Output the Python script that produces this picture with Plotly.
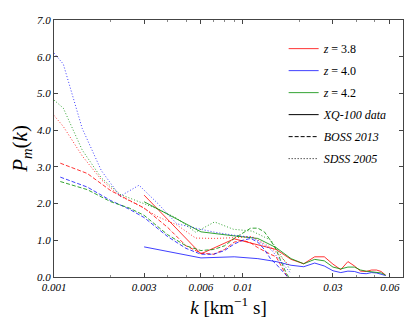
import plotly.graph_objects as go

# XQ-100 (solid), k in s/km
k_xq = [0.003, 0.006, 0.009, 0.012, 0.015, 0.018, 0.021, 0.024, 0.027, 0.030,
        0.033, 0.036, 0.039, 0.042, 0.045, 0.048, 0.051, 0.054, 0.057]
xq_38 = [2.23, 0.63, 1.04, 0.88, 0.75, 0.48, 0.36, 0.55, 0.55, 0.35,
         0.20, 0.42, 0.30, 0.16, 0.15, 0.19, 0.19, 0.15, 0.05]
xq_40 = [0.82, 0.52, 0.55, 0.50, 0.42, 0.32, 0.28, 0.38, 0.30, 0.17,
         0.12, 0.16, 0.15, 0.10, 0.09, 0.12, 0.11, 0.08, 0.04]
xq_42 = [2.05, 1.23, 1.12, 1.05, 0.80, 0.50, 0.36, 0.48, 0.44, 0.27,
         0.22, 0.27, 0.27, 0.19, 0.16, 0.14, 0.14, 0.11, 0.05]

# BOSS 2013 (dashed)
k_boss = [0.00108, 0.0015, 0.002, 0.0025, 0.003, 0.004, 0.005, 0.006, 0.007, 0.008,
          0.009, 0.010, 0.011, 0.012, 0.013, 0.014, 0.015, 0.016, 0.017, 0.018, 0.019]
boss_38 = [3.10, 2.82, 2.35, 2.10, 1.88, 1.35, 0.85, 0.65, 0.62, 0.75,
           0.95, 1.00, 0.93, 0.80, 0.70, 0.62, 0.55, 0.30, 0.05, -0.20, -0.40]
boss_40 = [2.72, 2.45, 2.08, 1.85, 1.62, 1.10, 0.78, 0.62, 0.62, 0.72,
           0.90, 1.00, 1.05, 0.95, 0.75, 0.50, 0.35, 0.20, 0.05, -0.10, -0.25]
boss_42 = [2.60, 2.38, 2.05, 1.88, 1.68, 1.15, 0.85, 0.72, 0.75, 0.85,
           1.05, 1.20, 1.33, 1.33, 1.23, 1.00, 0.75, 0.40, 0.10, -0.10, -0.30]

# SDSS 2005 (dotted)
k_sdss = [0.001, 0.00112, 0.00141, 0.00178, 0.00224, 0.00282, 0.00355,
          0.00447, 0.00562, 0.00708, 0.00891, 0.0112, 0.0141, 0.0178]
sdss_38 = [4.40, 4.10, 3.30, 2.65, 2.20, 1.95, 1.64, 1.42, 1.06, 1.05, 1.07, 1.10, 0.80, 0.30]
sdss_40 = [6.10, 5.80, 4.05, 2.90, 2.20, 2.50, 2.00, 1.45, 1.33, 1.22, 1.14, 1.08, 0.75, 0.12]
sdss_42 = [4.82, 4.60, 3.46, 2.70, 2.25, 2.05, 1.85, 1.60, 1.22, 1.50, 1.30, 1.25, 1.00, 0.20]

x_ticks = [0.001, 0.003, 0.006, 0.01, 0.03, 0.06]
x_ticktext = ["0.001", "0.003", "0.006", "0.01", "0.03", "0.06"]
x_minor = [0.002, 0.004, 0.005, 0.007, 0.008, 0.009, 0.02, 0.04, 0.05, 0.07]

red = "rgba(255,0,0,0.8)"
blue = "rgba(0,0,255,0.75)"
green = "rgba(0,140,0,0.8)"

fig = go.Figure()

series = [
    (k_xq, xq_38, red, "solid"), (k_xq, xq_40, blue, "solid"), (k_xq, xq_42, green, "solid"),
    (k_boss, boss_38, red, "4px,2px"), (k_boss, boss_40, blue, "4px,2px"), (k_boss, boss_42, green, "4px,2px"),
    (k_sdss, sdss_38, red, "1px,2px"), (k_sdss, sdss_40, blue, "1px,2px"), (k_sdss, sdss_42, green, "1px,2px"),
]
for kx, py, col, dash in series:
    fig.add_trace(go.Scatter(x=kx, y=py, mode="lines", showlegend=False,
                             line=dict(color=col, width=1, dash=dash)))

# legend entries
legend_items = [
    ("<i>z</i> = 3.8", red, "solid"),
    ("<i>z</i> = 4.0", blue, "solid"),
    ("<i>z</i> = 4.2", green, "solid"),
    ("<i>XQ-100 data</i>", "black", "solid"),
    ("<i>BOSS 2013</i>", "black", "4px,2px"),
    ("<i>SDSS 2005</i>", "black", "1px,2px"),
]
for i, (name, col, dash) in enumerate(legend_items):
    fig.add_trace(go.Scatter(x=[None], y=[None], mode="lines", name=name,
                             legendgroup=str(i),
                             line=dict(color=col, width=1, dash=dash)))

# page body has an 8px margin, so the figure is a bit smaller than the window
fig.update_layout(
    width=407, height=324,
    margin=dict(l=46, r=12, t=12, b=55),
    paper_bgcolor="white", plot_bgcolor="white",
    font=dict(family="Liberation Serif", size=11, color="black"),
    showlegend=True,
    legend=dict(x=0.658, y=0.945, xanchor="left", yanchor="top",
                bgcolor="rgba(0,0,0,0)", font=dict(size=12),
                tracegroupgap=3),
    xaxis=dict(
        type="log", range=[-3, -1.152], automargin=False,
        tickvals=x_ticks, ticktext=x_ticktext,
        ticks="inside", ticklen=4, tickcolor="#444",
        showline=True, linecolor="#444", linewidth=1, mirror="ticks",
        showgrid=False, zeroline=False,
        tickfont=dict(family="Liberation Serif", size=11, style="italic"),
        minor=dict(tickvals=x_minor, ticks="inside", ticklen=2, tickcolor="#888", showgrid=False),
        title=dict(text="<i>k</i> [km<sup>−1</sup> s]", font=dict(size=19), standoff=8),
    ),
    yaxis=dict(
        range=[0, 7], dtick=1, tickformat=".1f", automargin=False,
        ticks="inside", ticklen=4, tickcolor="#444",
        showline=True, linecolor="#444", linewidth=1, mirror="ticks",
        showgrid=False, zeroline=False,
        tickfont=dict(family="Liberation Serif", size=11, style="italic"),
        title=dict(text="<i>P</i><sub><i>m</i></sub>(<i>k</i>)", font=dict(size=21), standoff=2),
    ),
)

fig.write_html("out.html")
